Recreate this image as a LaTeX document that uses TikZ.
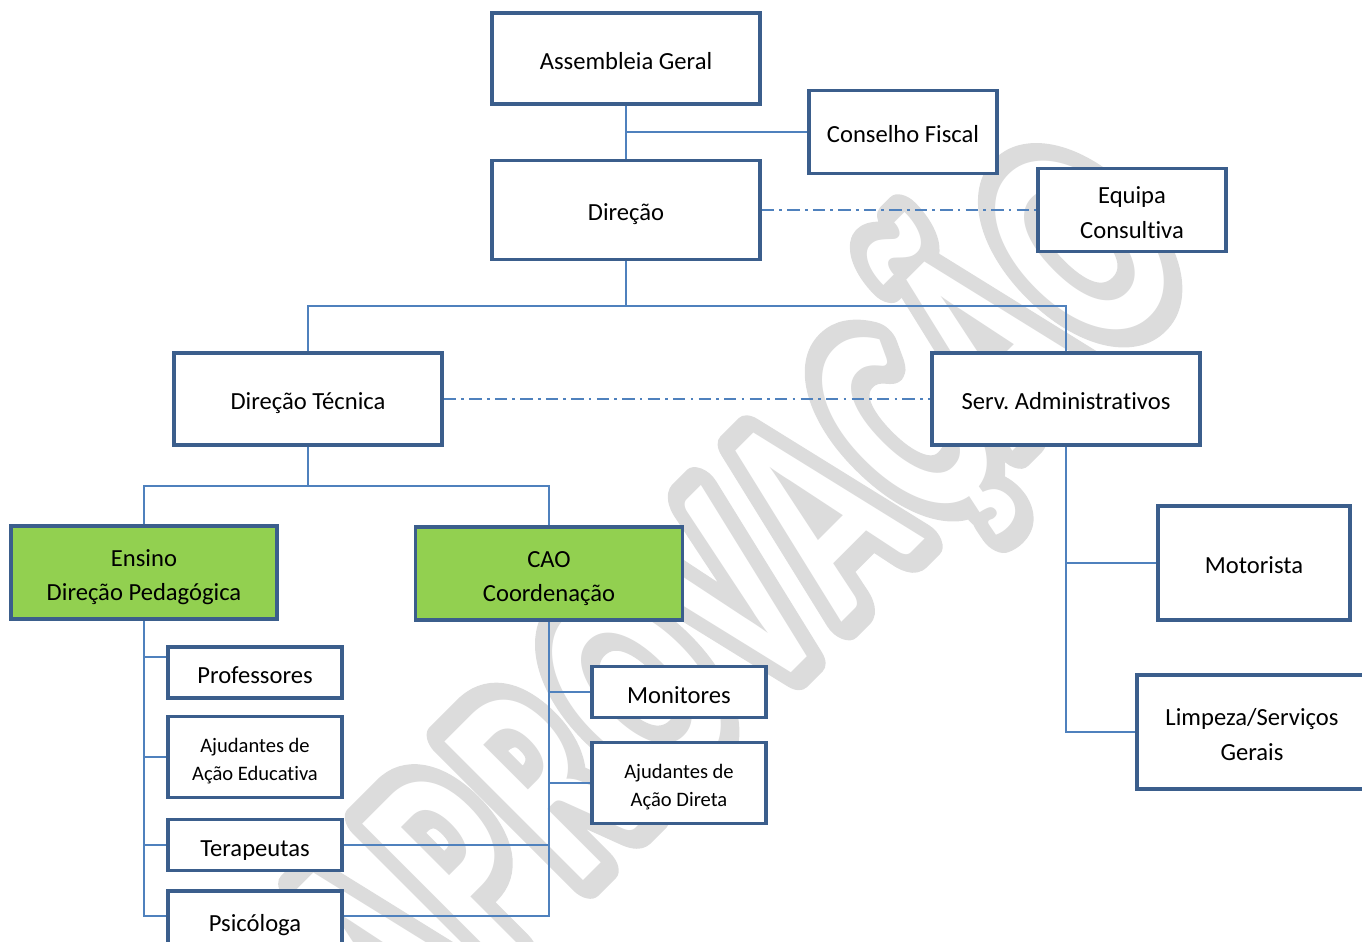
\documentclass[tikz,border=0pt]{standalone}
\usepackage{fontspec}
\setmainfont{Carlito}[Ligatures=NoCommon]
\newfontfamily\wmring{Carlito}[Ligatures=NoCommon, LetterSpace=6, BoldFeatures={FakeBold=14}]
\newfontfamily\wmhole{Carlito}[Ligatures=NoCommon, LetterSpace=6]
\definecolor{bord}{HTML}{3B5E8C}
\definecolor{conn}{HTML}{4F81BD}
\definecolor{grn}{HTML}{92D050}
\definecolor{wm}{HTML}{DCDCDC}
\newcommand\lnst{\rule[-0.255em]{0pt}{1.403em}}
\frenchspacing
\lineskiplimit=-20pt
\tikzset{
  box/.style={draw=bord, line width=2.2pt, fill=white, inner sep=0pt, align=center, font=\fontsize{14}{19.6}\selectfont},
  gbox/.style={box, fill=grn},
  sbox/.style={box, font=\fontsize{11.7}{16}\selectfont},
  link/.style={draw=conn, line width=1.14pt},
  dlink/.style={draw=conn, line width=1.14pt, dash pattern=on 7pt off 3pt on 1.5pt off 3pt},
  wmark/.style={rotate=45, yscale=1.55, anchor=base, inner sep=0pt, line join=round},
}
\begin{document}
\begin{tikzpicture}[x=0.02cm,y=-0.02cm]
\useasboundingbox (0,0) rectangle (1362,941);
% watermark (outlined letters)
\node[wmark, text=wm, font=\wmring\bfseries\fontsize{111}{111}\selectfont] (wmA) at (799,665) {APROVAÇÃO};
\node[wmark, text=white, font=\wmhole\bfseries\fontsize{111}{111}\selectfont] (wmB) at (799,665) {APROVAÇÃO};
% boxes
\node[box, minimum width=5.36cm, minimum height=1.82cm] (ag) at (626,58.5) {\lnst Assembleia Geral};
\node[box, minimum width=3.76cm, minimum height=1.66cm] (cf) at (903,132) {\lnst Conselho Fiscal};
\node[box, minimum width=5.36cm, minimum height=1.98cm] (dir) at (626,210) {\lnst Direção};
\node[box, minimum width=3.76cm, minimum height=1.66cm] (eq) at (1132,210) {\lnst Equipa\\\lnst Consultiva};
\node[box, minimum width=5.36cm, minimum height=1.84cm] (dt) at (308,399) {\lnst Direção Técnica};
\node[box, minimum width=5.36cm, minimum height=1.84cm] (sa) at (1066,399) {\lnst Serv. Administrativos};
\node[gbox, minimum width=5.32cm, minimum height=1.86cm] (en) at (144,572.5) {\lnst Ensino\\\lnst Direção Pedagógica};
\node[gbox, minimum width=5.34cm, minimum height=1.86cm] (cao) at (549,573.5) {\lnst CAO\\\lnst Coordenação};
\node[box, minimum width=3.48cm, minimum height=1.02cm] (prof) at (255,672.5) {\lnst Professores};
\node[sbox, minimum width=3.48cm, minimum height=1.62cm] (aje) at (255,757) {\lnst Ajudantes de\\\lnst Ação Educativa};
\node[box, minimum width=3.48cm, minimum height=1.02cm] (ter) at (255,845) {\lnst Terapeutas};
\node[box, minimum width=3.48cm, minimum height=1.16cm] (psi) at (255,920) {\lnst Psicóloga};
\node[box, minimum width=3.48cm, minimum height=1.02cm] (mon) at (679,692) {\lnst Monitores};
\node[sbox, minimum width=3.48cm, minimum height=1.62cm] (ajd) at (679,783) {\lnst Ajudantes de\\\lnst Ação Direta};
\node[box, minimum width=3.84cm, minimum height=2.28cm] (mot) at (1254,563) {\lnst Motorista};
\node[box, minimum width=4.6cm, minimum height=2.28cm] (lim) at (1252,732) {\lnst Limpeza/Serviços\\\lnst Gerais};
% connectors
\coordinate (j1) at (626,132);
\coordinate (b1) at (626,306);
\coordinate (b2) at (308,486);
\draw[link] (ag.south) -- (dir.north);
\draw[link] (j1) -- (cf.west);
\draw[dlink] (dir.east) -- (eq.west);
\draw[link] (dir.south) -- (b1);
\draw[link] (dt.north) |- (b1) -| (sa.north);
\draw[dlink] (dt.east) -- (sa.west);
\draw[link] (dt.south) -- (b2);
\draw[link] (en.north) |- (b2) -| (cao.north);
\draw[link] (en.south) |- ([yshift=0.31cm]prof.west);
\draw[link] (en.south) |- (aje.west);
\draw[link] (en.south) |- (ter.west);
\draw[link] (en.south) |- ([yshift=0.08cm]psi.west);
\draw[link] (cao.south) |- (mon.west);
\draw[link] (cao.south) |- (ajd.west);
\draw[link] (cao.south) |- (ter.east);
\draw[link] (cao.south) |- ([yshift=0.08cm]psi.east);
\draw[link] (sa.south) |- (mot.west);
\draw[link] (sa.south) |- (lim.west);
\end{tikzpicture}
\end{document}
